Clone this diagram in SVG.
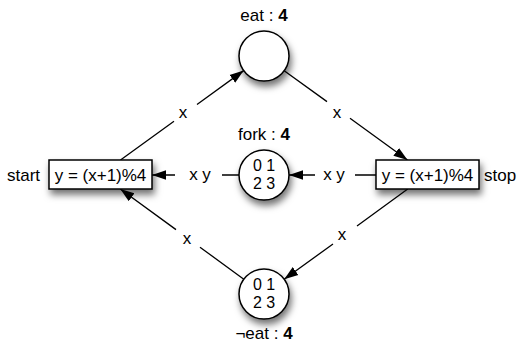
<svg xmlns="http://www.w3.org/2000/svg" width="517" height="342" viewBox="0 0 517 342">
<style>
text{font-family:"Liberation Sans",Arial,Helvetica,sans-serif;font-size:17px;fill:#000}
.mid{text-anchor:middle}
.dig{font-size:16px}
.shape{fill:#fff;stroke:#000;stroke-width:1.5;filter:url(#sh)}
.edge{fill:none;stroke:#000;stroke-width:1.3}
</style>
<defs>
<filter id="sh" x="-30%" y="-30%" width="170%" height="180%">
<feDropShadow dx="2" dy="5" stdDeviation="3.5" flood-color="#000" flood-opacity="0.55"/>
</filter>
<marker id="ah" markerUnits="userSpaceOnUse" markerWidth="15" markerHeight="12" viewBox="0 0 15 12" refX="14" refY="6" orient="auto">
<path d="M0,1.2 L14,6 L0,10.8 Z" fill="#000"/>
</marker>
</defs>
<g id="connectors">
<path class="edge" marker-end="url(#ah)" d="M120.5,160 L174,121.2 M197,104.5 L243.7,70.6"/>
<path class="edge" marker-end="url(#ah)" d="M284.2,70.7 L327,101.6 M350,118.3 L407.5,160"/>
<path class="edge" marker-end="url(#ah)" d="M407.7,189 L357,226 M333,244 L284.2,279.2"/>
<path class="edge" marker-end="url(#ah)" d="M243.8,279.2 L200,247.2 M176,229.6 L120.3,189"/>
<path class="edge" marker-end="url(#ah)" d="M376,175 L355,175 M315,175 L289,175"/>
<path class="edge" marker-end="url(#ah)" d="M239,175 L222,175 M175,175 L152,175"/>
<text class="mid" x="183" y="117.5">x</text>
<text class="mid" x="337" y="117.5">x</text>
<text class="mid" x="342" y="239.5">x</text>
<text class="mid" x="187" y="243.5">x</text>
<text class="mid" x="334" y="179.5">x y</text>
<text class="mid" x="200" y="179.5">x y</text>
</g>
<g id="start">
<rect class="shape" x="49" y="160" width="103" height="29"/>
<text class="mid" x="100.5" y="181">y = (x+1)%4</text>
<text x="7" y="181">start</text>
</g>
<g id="stop">
<rect class="shape" x="376" y="160" width="103" height="29"/>
<text class="mid" x="427.5" y="181">y = (x+1)%4</text>
<text x="484" y="181">stop</text>
</g>
<g id="eat">
<circle class="shape" cx="264" cy="56" r="25"/>
<text class="mid" x="264" y="21">eat : <tspan font-weight="bold">4</tspan></text>
</g>
<g id="fork">
<circle class="shape" cx="264" cy="175" r="25"/>
<text class="mid" x="264" y="140">fork : <tspan font-weight="bold">4</tspan></text>
<text class="mid dig" x="264" y="171">0 1</text>
<text class="mid dig" x="264" y="189">2 3</text>
</g>
<g id="noteat">
<circle class="shape" cx="264" cy="294" r="25"/>
<text class="mid dig" x="264" y="290">0 1</text>
<text class="mid dig" x="264" y="308">2 3</text>
<text class="mid" x="264" y="339">¬eat : <tspan font-weight="bold">4</tspan></text>
</g>
</svg>
